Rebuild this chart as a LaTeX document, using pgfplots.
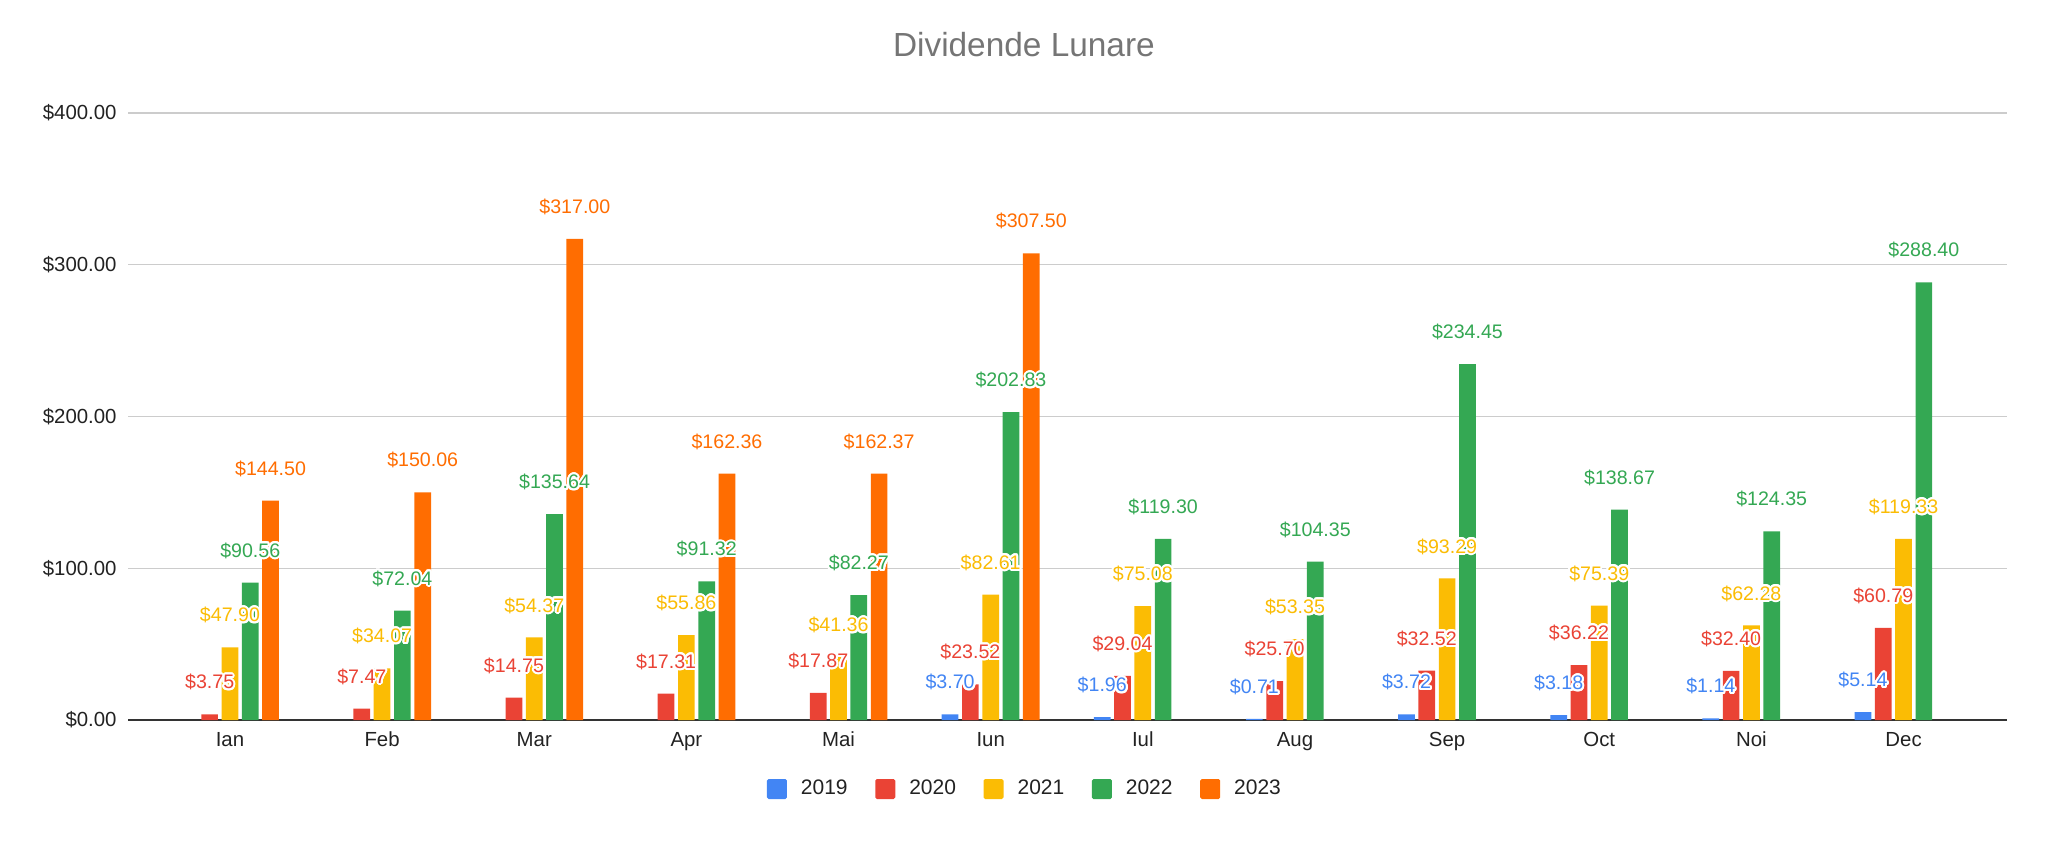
\documentclass[border=0pt]{standalone}
\usepackage{fontspec}
\setmainfont{Liberation Sans}
\usepackage{pgfplots}
\pgfplotsset{compat=1.18}
\usepackage{contour}
\contourlength{1pt}
\contournumber{24}
\definecolor{c19}{HTML}{4285F4}
\definecolor{c20}{HTML}{EA4335}
\definecolor{c21}{HTML}{FBBC04}
\definecolor{c22}{HTML}{34A853}
\definecolor{c23}{HTML}{FF6D01}
\definecolor{gridc}{HTML}{CCCCCC}
\definecolor{basec}{HTML}{333333}
\definecolor{tickc}{HTML}{222222}
\definecolor{titlec}{HTML}{757575}
\pgfplotsset{
  sqlegend/.style={legend image code/.code={\fill[##1, rounded corners=0.8pt] (0pt,-5pt) rectangle (10pt,5pt);}},
}
\begin{document}
\begin{tikzpicture}
\useasboundingbox (0,0) rectangle (1024pt,420.5pt);
\begin{axis}[
  at={(64pt,60.5pt)}, anchor=south west,
  width=939.5pt, height=303.5pt, scale only axis,
  xmin=-0.67, xmax=11.68, ymin=0, ymax=400,
  ybar=1.8pt, bar width=8.35pt,
  axis line style={draw=none},
  major tick length=0pt,
  /pgf/number format/assume math mode=true,
  ytick={0,100,200,300,400},
  yticklabels={\$0.00,\$100.00,\$200.00,\$300.00,\$400.00},
  ymajorgrids, major grid style={draw=gridc, line width=0.6pt},
  xtick={0,...,11},
  xticklabels={Ian,Feb,Mar,Apr,Mai,Iun,Iul,Aug,Sep,Oct,Noi,Dec},
  tick label style={font=\fontsize{10.2}{12}\selectfont, text=tickc},
  yticklabel style={anchor=east, inner sep=0pt, xshift=-5.5pt},
  xticklabel style={anchor=base, inner sep=0pt, yshift=-13pt},
  title={Dividende Lunare},
  title style={at={(0.4768,1.0736)}, anchor=base, inner sep=0pt, font=\fontsize{16.7}{20}\selectfont, text=titlec},
  nodes near coords={\contour{white}{\$\pgfmathprintnumber[fixed,fixed zerofill,precision=2]{\pgfplotspointmeta}}},
  every node near coord/.append style={anchor=center, yshift=15.5pt, font=\fontsize{9.8}{12}\selectfont},
  legend columns=5,
  legend style={at={(0.4768,-0.1137)}, anchor=center, draw=none, fill=none,
    font=\fontsize{10.5}{12}\selectfont, text=tickc,
    nodes={inner sep=0pt},
    /tikz/every odd column/.append style={column sep=7pt},
    /tikz/every even column/.append style={column sep=13.8pt}},
  clip=false,
]
\draw[basec, line width=1pt] (rel axis cs:0,0) -- (rel axis cs:1,0);
\addplot[fill=c19, draw=none, sqlegend, every node near coord/.append style={text=c19}]
  coordinates {(5,3.70) (6,1.96) (7,0.71) (8,3.72) (9,3.18) (10,1.14) (11,5.14)};
\addplot[fill=c20, draw=none, sqlegend, every node near coord/.append style={text=c20}]
  coordinates {(0,3.75) (1,7.47) (2,14.75) (3,17.31) (4,17.87) (5,23.52) (6,29.04) (7,25.70) (8,32.52) (9,36.22) (10,32.40) (11,60.79)};
\addplot[fill=c21, draw=none, sqlegend, every node near coord/.append style={text=c21}]
  coordinates {(0,47.90) (1,34.07) (2,54.37) (3,55.86) (4,41.36) (5,82.61) (6,75.08) (7,53.35) (8,93.29) (9,75.39) (10,62.28) (11,119.33)};
\addplot[fill=c22, draw=none, sqlegend, every node near coord/.append style={text=c22}]
  coordinates {(0,90.56) (1,72.04) (2,135.64) (3,91.32) (4,82.27) (5,202.83) (6,119.30) (7,104.35) (8,234.45) (9,138.67) (10,124.35) (11,288.40)};
\addplot[fill=c23, draw=none, sqlegend, every node near coord/.append style={text=c23}]
  coordinates {(0,144.50) (1,150.06) (2,317.00) (3,162.36) (4,162.37) (5,307.50)};
\legend{2019,2020,2021,2022,2023}
\end{axis}
\end{tikzpicture}
\end{document}
